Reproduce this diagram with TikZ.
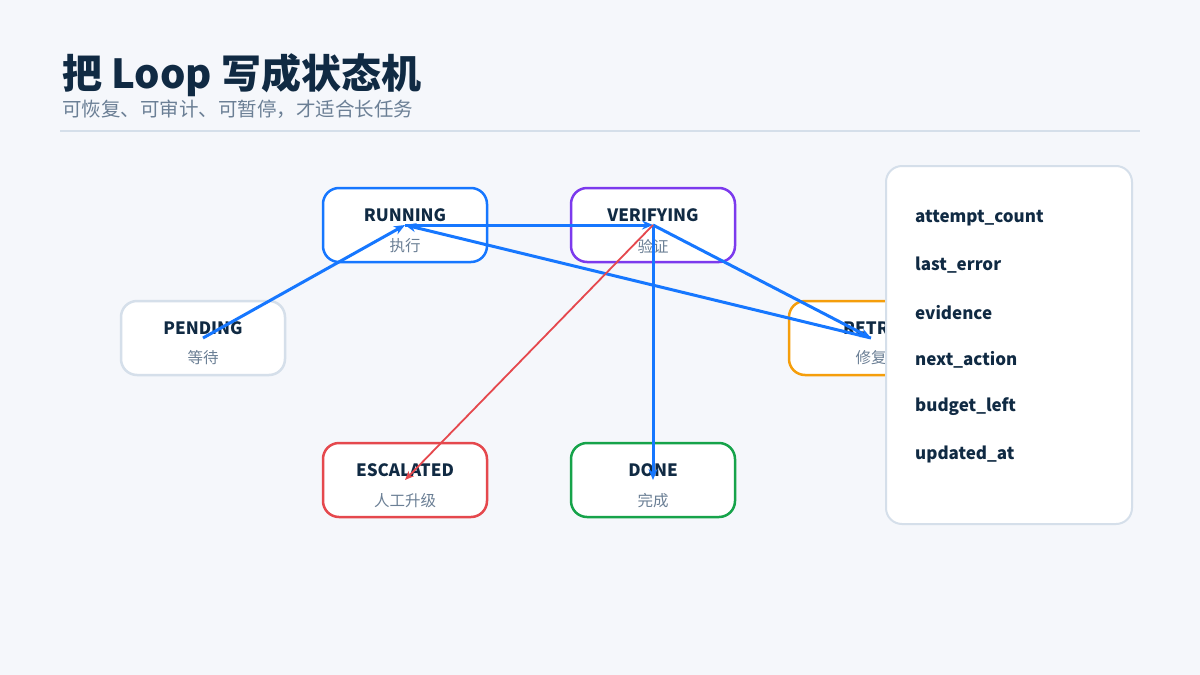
\documentclass[tikz,border=0pt]{standalone}
\usepackage{fontspec}
\setmainfont{Noto Sans CJK SC}
\usetikzlibrary{arrows.meta}
\definecolor{bg}{HTML}{F5F7FB}
\definecolor{ink}{HTML}{102A43}
\definecolor{sub}{HTML}{6B7F95}
\definecolor{rulec}{HTML}{D5DFEA}
\definecolor{cblue}{HTML}{1677FF}
\definecolor{cpurple}{HTML}{7C3AED}
\definecolor{corange}{HTML}{F59E0B}
\definecolor{cred}{HTML}{E5484D}
\definecolor{cgreen}{HTML}{16A34A}
\begin{document}
\begin{tikzpicture}[x=1pt,y=-1pt,
  state/.style={draw, fill=white, rounded corners=16pt, line width=2.5pt, minimum width=164pt, minimum height=74pt, inner sep=0pt},
  lab/.style={text=ink, font=\bfseries\fontsize{17}{20}\selectfont, inner sep=0pt},
  sublab/.style={text=sub, font=\fontsize{15.5}{18}\selectfont, inner sep=0pt},
  edge/.style={draw=cblue, line width=3pt, -{Stealth[length=11pt,width=9pt]}},
  redge/.style={draw=cred, line width=1.8pt, -{Stealth[length=9pt,width=7.5pt]}},
  field/.style={anchor=west, text=ink, font=\bfseries\fontsize{17}{20}\selectfont, inner sep=0pt}]
\useasboundingbox (0,0) rectangle (1200,675);
\fill[bg] (0,0) rectangle (1200,675);
% title
\node[anchor=base west, inner sep=0pt, text=ink, font=\bfseries\fontsize{40}{48}\selectfont] (title) at (62,88) {把 Loop 写成状态机};
\node[anchor=base west, inner sep=0pt, text=sub, font=\fontsize{19.5}{24}\selectfont] (subtitle) at (62,116) {可恢复、可审计、可暂停，才适合长任务};
\draw[rulec, line width=2pt] (60,131) -- (1140,131);
% states
\node[state, draw=cblue] (running) at (405,225) {};
\node[state, draw=cpurple] (verifying) at (653,225) {};
\node[state, draw=rulec] (pending) at (203,338) {};
\node[state, draw=corange] (retry) at (871,338) {};
\node[state, draw=cred] (escalated) at (405,480) {};
\node[state, draw=cgreen] (done) at (653,480) {};
% labels
\node[lab] (runningT) at (405,215) {RUNNING};
\node[sublab] (runningS) at (405,246) {执行};
\node[lab] (verifyingT) at (653,215) {VERIFYING};
\node[sublab] (verifyingS) at (653,246) {验证};
\node[lab] (pendingT) at (203,328) {PENDING};
\node[sublab] (pendingS) at (203,358) {等待};
\node[lab] (retryT) at (871,328) {RETRY};
\node[sublab] (retryS) at (871,358) {修复};
\node[lab] (escalatedT) at (405,470) {ESCALATED};
\node[sublab] (escalatedS) at (405,501) {人工升级};
\node[lab] (doneT) at (653,470) {DONE};
\node[sublab] (doneS) at (653,501) {完成};
% edges
\draw[edge] (pending.center) -- (running.center);
\draw[edge] (running.center) -- (verifying.center);
\draw[edge] (verifying.center) -- (done.center);
\draw[edge] (verifying.center) -- (retry.center);
\draw[edge] (retry.center) -- (running.center);
\draw[redge] (verifying.center) -- (escalated.center);
% panel
\node[draw=rulec, fill=white, line width=2pt, rounded corners=16pt, minimum width=246pt, minimum height=358pt, inner sep=0pt] (panel) at (1009,345) {};
\node[field] (f1) at (915,218.5) {attempt\_count};
\node[field] (f2) at (915,265.5) {last\_error};
\node[field] (f3) at (915,312.5) {evidence};
\node[field] (f4) at (915,360) {next\_action};
\node[field] (f5) at (915,407) {budget\_left};
\node[field] (f6) at (915,454.5) {updated\_at};
\end{tikzpicture}
\end{document}
